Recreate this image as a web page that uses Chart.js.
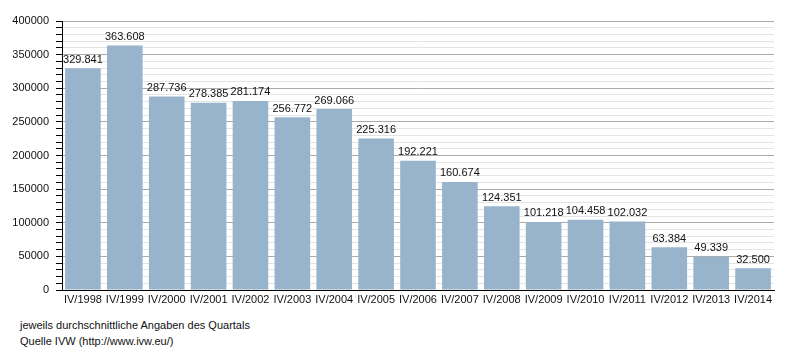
<!DOCTYPE html>
<html>
<head>
<meta charset="utf-8">
<script src="https://cdn.jsdelivr.net/npm/chart.js@4.4.1/dist/chart.umd.min.js"></script>
<style>
html,body{margin:0;padding:0;background:#fff;}
#wrap{position:relative;width:800px;height:350px;}
#c{position:absolute;left:0;top:0;}
.note{position:absolute;left:20px;font:11px "Liberation Sans",Arial,sans-serif;color:#111;}
</style>
</head>
<body>
<div id="wrap">
<canvas id="c" width="800" height="312"></canvas>
<div class="note" style="top:319px">jeweils durchschnittliche Angaben des Quartals</div>
<div class="note" style="top:335px">Quelle IVW (http://www.ivw.eu/)</div>
</div>
<script>
var quartale=['IV/1998','IV/1999','IV/2000','IV/2001','IV/2002','IV/2003','IV/2004','IV/2005','IV/2006','IV/2007','IV/2008','IV/2009','IV/2010','IV/2011','IV/2012','IV/2013','IV/2014'];
var auflage=[329841,363608,287736,278385,281174,256772,269066,225316,192221,160674,124351,101218,104458,102032,63384,49339,32500];
var yMax=400000, yStep=10000, yLabelStep=50000;

var fmt=function(n){return String(n).replace(/\B(?=(\d{3})+(?!\d))/g,'.');};
var FONT='"Liberation Sans",Arial,sans-serif';

// Werte über den Balken
var valueLabels={
  id:'valueLabels',
  afterDatasetsDraw:function(chart){
    var ctx=chart.ctx, meta=chart.getDatasetMeta(0);
    ctx.save();
    ctx.font='11px '+FONT; ctx.fillStyle='#111'; ctx.textAlign='center'; ctx.textBaseline='bottom';
    meta.data.forEach(function(bar,i){ ctx.fillText(fmt(auflage[i]), bar.x, bar.y-3); });
    ctx.restore();
  }
};

new Chart(document.getElementById('c'),{
  type:'bar',
  data:{labels:quartale,datasets:[{data:auflage,backgroundColor:'#98b3cc',borderWidth:0,barPercentage:0.85,categoryPercentage:1}]},
  options:{
    responsive:false,animation:false,
    layout:{padding:{top:21,right:26,left:0,bottom:0}},
    plugins:{legend:{display:false},tooltip:{enabled:false}},
    scales:{
      x:{
        grid:{display:false,drawTicks:false},
        border:{color:'#000',width:1},
        ticks:{color:'#111',font:{family:FONT,size:11},padding:3,maxRotation:0,autoSkip:false},
        afterFit:function(s){s.height=22;}
      },
      y:{
        min:0,max:yMax,
        border:{color:'#000',width:1},
        grid:{
          color:function(c){return c.tick.value%yLabelStep===0?'#aaaaaa':'#e4e4e4';},
          tickColor:'#000',
          tickLength:6
        },
        ticks:{stepSize:yStep,autoSkip:false,color:'#111',font:{family:FONT,size:11},padding:7,
          callback:function(v){return v%yLabelStep===0?String(v):'';}},
        afterFit:function(s){s.width=62;}
      }
    }
  },
  plugins:[valueLabels]
});
</script>
</body>
</html>
